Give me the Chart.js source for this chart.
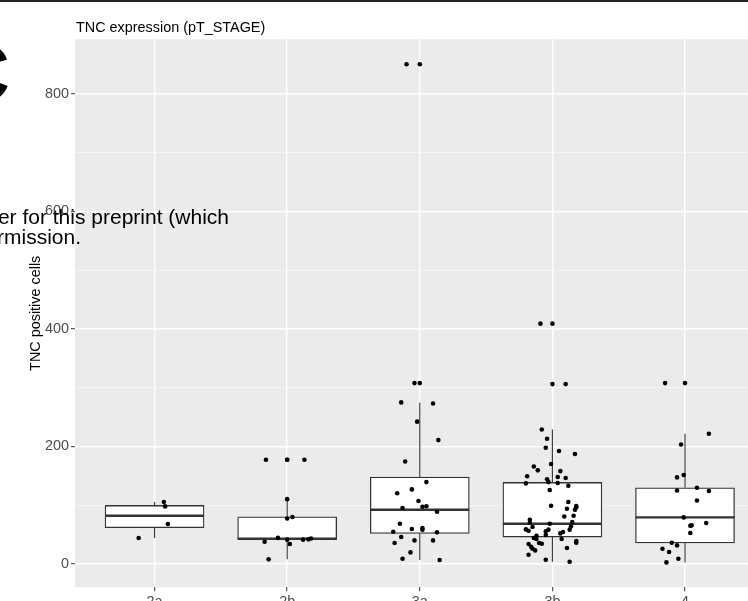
<!DOCTYPE html>
<html>
<head>
<meta charset="utf-8">
<script src="https://cdn.jsdelivr.net/npm/chart.js@4/dist/chart.umd.min.js"></script>
<style>
  html, body { margin: 0; padding: 0; background: #ffffff; overflow: hidden; width: 748px; height: 601px; }
  #wrap { position: relative; width: 752px; height: 601px; }
</style>
</head>
<body>
<div id="wrap"><canvas id="chart" width="752" height="601"></canvas></div>
<script>
// Tumour stages on the x axis
const categories = ['2a', '2b', '3a', '3b', '4'];

// Y axis ticks (labelled majors, unlabelled minors)
const yMajorTicks = [0, 200, 400, 600, 800];
const yMinorTicks = [100, 300, 500, 700];

// Box summaries per stage: whisker ends, hinges and median
const whiskerLow  = [43.8, 7.4, 6.3, 3.4, 2.2];
const hingeLow    = [61.3, 41.4, 51.7, 45.4, 35.2];
const medians     = [81.7, 42.6, 92.0, 68.0, 78.9];
const hingeHigh   = [99.3, 80.0, 147.6, 138.5, 129.4];
const whiskerHigh = [105.0, 110.0, 274.8, 228.7, 221.4];

// Outliers drawn on the stage centre line
const outlierStage  = [2, 2, 3, 3, 4, 4, 5];
const outlierValues = [177, 177, 851, 307.7, 409, 306, 307.7];

// Individual samples per stage, with their horizontal jitter (in stage units)
const stage2aValues = [105.0, 97.6, 67.6, 43.8];
const stage2aJitter = [0.07, 0.08, 0.10, -0.12];

const stage2bValues = [177, 177, 110, 77, 79.5, 44, 41, 37.5, 33.5, 41, 41.5, 43, 7.4];
const stage2bJitter = [-0.16, 0.13, 0.00, 0.00, 0.04, -0.07, 0.00, -0.17, 0.02, 0.12, 0.16, 0.18, -0.14];

const stage3aValues = [851, 307.7, 274.8, 273, 242, 210.6, 174, 139, 120, 126.6, 106.7, 94.8, 97, 98,
  88.5, 68, 59, 60.7, 58, 54.5, 53.4, 45.4, 39.7, 39.7, 35.2, 19.3, 8.5, 6.3];
const stage3aJitter = [-0.10, -0.04, -0.14, 0.10, -0.02, 0.14, -0.11, 0.05, -0.17, -0.06, -0.01, -0.13, 0.02, 0.05,
  0.13, -0.15, -0.06, 0.02, 0.02, -0.20, 0.13, -0.14, -0.04, 0.10, -0.19, -0.07, -0.13, 0.15];

const stage3bValues = [409, 306, 228.7, 213, 197.5, 192, 186.8, 169.8, 165.7, 159, 157.8, 149, 147.6, 146,
  144, 139, 136.8, 137.4, 132.8, 125.5, 105, 98.8, 98.2, 93.7, 92, 96, 81.7, 80.5, 75, 69.8, 71, 68,
  62.5, 63.5, 58, 58.4, 56.2, 58, 55, 54, 51.6, 48.9, 47.7, 43.8, 42, 42, 38.7, 35.8, 33.5, 34, 35.2,
  29, 25.5, 26.7, 22.7, 15.3, 6.8, 3.4];
const stage3bJitter = [-0.09, 0.10, -0.08, -0.04, -0.05, 0.05, 0.17, -0.01, -0.14, -0.11, 0.06, -0.19, 0.04, 0.10,
  -0.04, -0.03, -0.20, 0.04, 0.12, -0.02, 0.12, -0.01, 0.18, 0.11, 0.17, 0.18, 0.16, 0.09, -0.17, -0.17, 0.15, -0.02,
  -0.15, 0.14, 0.13, -0.20, -0.18, -0.03, -0.05, 0.08, 0.06, -0.05, -0.12, -0.14, -0.12, 0.07, 0.18, 0.18, -0.18, -0.08, -0.10,
  -0.16, -0.15, 0.11, -0.13, -0.18, -0.05, 0.13];

const stage4Values = [307.7, 221.4, 203, 147, 151, 124.8, 129.4, 123.8, 107.8, 78.9, 69.3, 64.7, 65.3, 52.2,
  35.8, 31.2, 25.5, 19.9, 8.5, 2.2];
const stage4Jitter = [-0.15, 0.18, -0.03, -0.06, -0.01, -0.06, 0.09, 0.18, 0.09, -0.01, 0.16, 0.04, 0.05, 0.04,
  -0.10, -0.06, -0.17, -0.12, -0.05, -0.14];

const stageValues = [stage2aValues, stage2bValues, stage3aValues, stage3bValues, stage4Values];
const stageJitter = [stage2aJitter, stage2bJitter, stage3aJitter, stage3bJitter, stage4Jitter];

const FONT = "'Liberation Sans', Arial, Helvetica, sans-serif";
const PANEL_BG = '#EBEBEB';
const BOX_LINE = '#333333';

// Scatter points: jittered samples plus the centred outliers
const samplePoints = [];
stageValues.forEach((vals, i) => {
  vals.forEach((v, k) => samplePoints.push({ x: i + 1 + stageJitter[i][k], y: v }));
});
const outlierPoints = outlierValues.map((v, k) => ({ x: outlierStage[k], y: v }));

// Box bodies as floating bars between the hinges
const boxBodies = categories.map((c, i) => ({ x: i + 1, y: [hingeLow[i], hingeHigh[i]] }));

const panelPlugin = {
  id: 'panel',
  beforeDraw(chart) {
    const { ctx, chartArea: a } = chart;
    ctx.save();
    ctx.fillStyle = '#ffffff';
    ctx.fillRect(0, 0, chart.width, chart.height);
    ctx.fillStyle = PANEL_BG;
    ctx.fillRect(a.left, a.top, a.right - a.left, a.bottom - a.top);
    ctx.restore();
  }
};

// Whiskers and median bars drawn right after the box bodies
const boxDetailPlugin = {
  id: 'boxDetail',
  afterDatasetDraw(chart, args) {
    if (chart.data.datasets[args.index].type !== 'bar') return;
    const { ctx } = chart;
    const ys = chart.scales.y;
    ctx.save();
    args.meta.data.forEach((el, i) => {
      const cx = el.x;
      const half = el.width / 2;
      ctx.strokeStyle = BOX_LINE;
      ctx.lineWidth = 1.1;
      ctx.beginPath();
      ctx.moveTo(cx, ys.getPixelForValue(hingeHigh[i]));
      ctx.lineTo(cx, ys.getPixelForValue(whiskerHigh[i]));
      ctx.moveTo(cx, ys.getPixelForValue(hingeLow[i]));
      ctx.lineTo(cx, ys.getPixelForValue(whiskerLow[i]));
      ctx.stroke();
      ctx.lineWidth = 2.4;
      ctx.beginPath();
      const my = ys.getPixelForValue(medians[i]);
      ctx.moveTo(cx - half, my);
      ctx.lineTo(cx + half, my);
      ctx.stroke();
    });
    ctx.restore();
  }
};

// Title, axis title and the surrounding page fragments
const textPlugin = {
  id: 'texts',
  afterDraw(chart) {
    const { ctx, chartArea: a } = chart;
    ctx.save();
    ctx.fillStyle = '#000000';
    ctx.font = '14.4px ' + FONT;
    ctx.textAlign = 'left';
    ctx.textBaseline = 'alphabetic';
    ctx.fillText('TNC expression (pT_STAGE)', a.left + 1, 31.5);

    ctx.save();
    ctx.translate(39.5, (a.top + a.bottom) / 2);
    ctx.rotate(-Math.PI / 2);
    ctx.textAlign = 'center';
    ctx.fillText('TNC positive cells', 0, 0);
    ctx.restore();

    ctx.font = '21px ' + FONT;
    ctx.textAlign = 'right';
    ctx.fillText('er for this preprint (which', 229, 223.5);
    ctx.fillText('rmission.', 81, 244);

    ctx.font = 'bold 82px ' + FONT;
    ctx.textAlign = 'right';
    ctx.fillText('C', 10, 101);

    ctx.fillStyle = '#222222';
    ctx.fillRect(0, 0, chart.width, 2);
    ctx.restore();
  }
};

const isMajor = (v) => yMajorTicks.includes(v);

new Chart(document.getElementById('chart'), {
  type: 'bar',
  data: {
    datasets: [
      {
        type: 'scatter',
        data: samplePoints,
        pointRadius: 2.3,
        pointBackgroundColor: '#000000',
        pointBorderWidth: 0,
        order: 0
      },
      {
        type: 'scatter',
        data: outlierPoints,
        pointRadius: 2.3,
        pointBackgroundColor: '#000000',
        pointBorderWidth: 0,
        order: 1
      },
      {
        type: 'bar',
        data: boxBodies,
        backgroundColor: '#ffffff',
        borderColor: BOX_LINE,
        borderWidth: 1.3,
        borderSkipped: false,
        barThickness: 99,
        order: 2
      }
    ]
  },
  options: {
    responsive: false,
    animation: false,
    events: [],
    layout: { padding: { top: 39.3, left: 0, right: 0, bottom: 0 } },
    plugins: { legend: { display: false }, title: { display: false }, tooltip: { enabled: false } },
    scales: {
      x: {
        type: 'linear',
        min: 0.4,
        max: 5.475,
        offset: false,
        border: { display: false },
        grid: {
          offset: false,
          color: '#ffffff',
          lineWidth: 1.4,
          tickColor: BOX_LINE,
          tickLength: 4,
          tickWidth: 1
        },
        afterBuildTicks: (s) => { s.ticks = categories.map((c, i) => ({ value: i + 1 })); },
        afterFit: (s) => { s.height = 13.7; },
        ticks: {
          autoSkip: false,
          maxRotation: 0,
          padding: 2,
          color: '#4D4D4D',
          font: { family: FONT, size: 14.4 },
          callback: (v) => categories[Math.round(v) - 1] || ''
        }
      },
      y: {
        type: 'linear',
        min: -40.2,
        max: 893.4,
        border: { display: false },
        grid: {
          color: (c) => (c.tick && isMajor(c.tick.value)) ? '#ffffff' : '#F6F6F6',
          lineWidth: (c) => (c.tick && isMajor(c.tick.value)) ? 1.4 : 0.8,
          tickColor: (c) => (c.tick && isMajor(c.tick.value)) ? BOX_LINE : 'rgba(0,0,0,0)',
          tickLength: 4,
          tickWidth: 1
        },
        afterBuildTicks: (s) => {
          s.ticks = yMajorTicks.concat(yMinorTicks).sort((p, q) => p - q).map((v) => ({ value: v }));
        },
        afterFit: (s) => { s.width = 75; },
        ticks: {
          autoSkip: false,
          padding: 2,
          color: '#4D4D4D',
          font: { family: FONT, size: 14.4 },
          callback: (v) => isMajor(v) ? String(v) : ''
        }
      }
    }
  },
  plugins: [panelPlugin, boxDetailPlugin, textPlugin]
});
</script>
</body>
</html>
